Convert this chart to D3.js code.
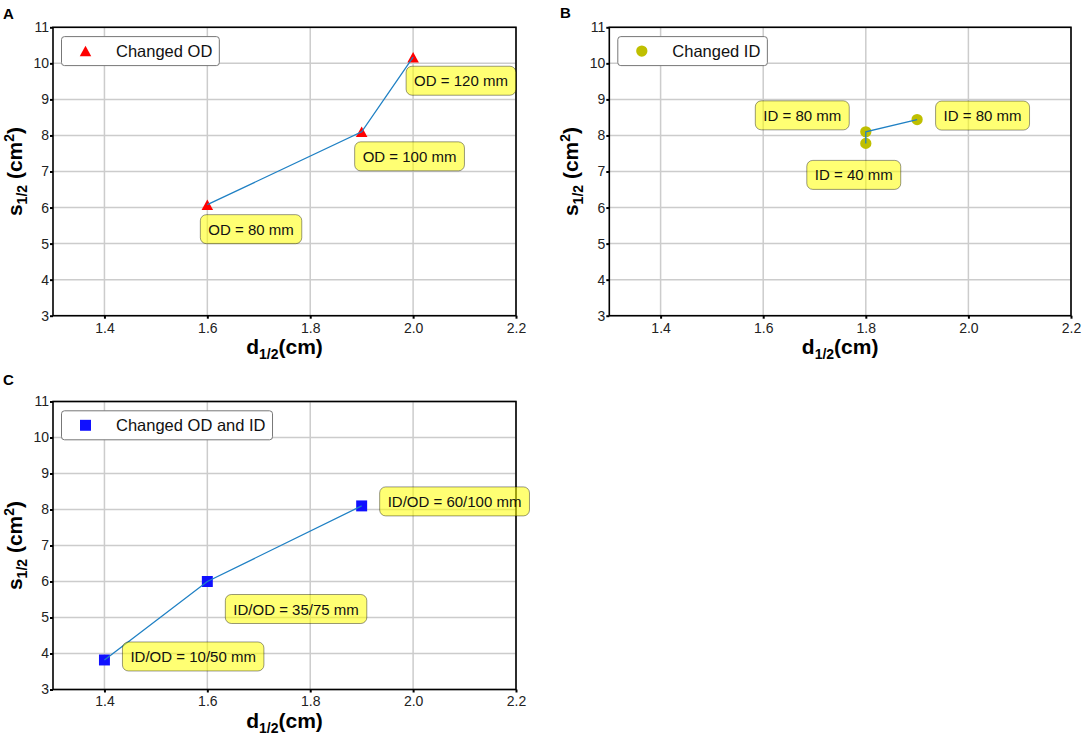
<!DOCTYPE html>
<html>
<head>
<meta charset="utf-8">
<script src="https://cdn.jsdelivr.net/npm/d3@7"></script>
<style>
  body { margin: 0; background: #fff; }
  svg { font-family: "Liberation Sans", Arial, sans-serif; }
  .axis path { display: none; }
  .axis line { stroke: #000; stroke-width: 2; }
</style>
</head>
<body>
<div id="chart"></div>
<script>
  "use strict";

  // ticks shared by the three panels
  var xTicks = [1.4, 1.6, 1.8, 2.0, 2.2];
  var yTicks = [3, 4, 5, 6, 7, 8, 9, 10, 11];

  // A - changed OD
  var odX = [1.6, 1.9, 2.0];
  var odY = [6.08, 8.1, 10.17];
  var odLabels = ["OD = 80 mm", "OD = 100 mm", "OD = 120 mm"];

  // B - changed ID
  var idX = [1.8, 1.8, 1.9];
  var idY = [7.78, 8.1, 8.44];
  var idLabels = ["ID = 40 mm", "ID = 80 mm", "ID = 80 mm"];

  // C - changed OD and ID
  var bothX = [1.4, 1.6, 1.9];
  var bothY = [3.82, 6.0, 8.1];
  var bothLabels = ["ID/OD = 10/50 mm", "ID/OD = 35/75 mm", "ID/OD = 60/100 mm"];

  var triangle = {
    draw: function(ctx, size) {
      var r = Math.sqrt(size) / 2;
      ctx.moveTo(0, -r);
      ctx.lineTo(r * 1.1, r);
      ctx.lineTo(-r * 1.1, r);
      ctx.closePath();
    }
  };

  var panels = [
    { letter: "A", lx: 3, ly: 19, left: 53, top: 27.3, width: 463, height: 288.4,
      xs: odX, ys: odY, labels: odLabels, legend: "Changed OD",
      symbol: triangle, size: 110, color: "#ff0000",
      offsets: [[-7, 10], [-7, 10], [-7, 9]] },
    { letter: "B", lx: 560, ly: 18, left: 609.3, top: 27.3, width: 461.7, height: 288.4,
      xs: idX, ys: idY, labels: idLabels, legend: "Changed ID",
      symbol: d3.symbolCircle, size: 100, color: "#bfbf00",
      offsets: [[-59, 17], [-110.5, -31], [18.5, -18.5]] },
    { letter: "C", lx: 3, ly: 385, left: 53, top: 401.5, width: 463, height: 288,
      xs: bothX, ys: bothY, labels: bothLabels, legend: "Changed OD and ID",
      symbol: d3.symbolSquare, size: 120, color: "#1010ff",
      offsets: [[18, -18], [18, 13], [18, -19]] }
  ];

  var svg = d3.select("#chart")
    .append("svg")
    .attr("width", 1084)
    .attr("height", 736);

  panels.forEach(function(p) {
    var x = d3.scaleLinear().domain([1.3, 2.2]).range([0, p.width]);
    var y = d3.scaleLinear().domain([3, 11]).range([p.height, 0]);

    svg.append("text")
      .attr("x", p.lx)
      .attr("y", p.ly)
      .style("font-size", "15px")
      .style("font-weight", "bold")
      .text(p.letter);

    var g = svg.append("g")
      .attr("transform", "translate(" + p.left + "," + p.top + ")");

    // grid
    g.append("g").selectAll("line")
      .data(xTicks)
      .enter().append("line")
      .attr("x1", function(d) { return x(d); })
      .attr("x2", function(d) { return x(d); })
      .attr("y1", 0)
      .attr("y2", p.height)
      .attr("stroke", "#cccccc")
      .attr("stroke-width", 1.5);
    g.append("g").selectAll("line")
      .data(yTicks)
      .enter().append("line")
      .attr("x1", 0)
      .attr("x2", p.width)
      .attr("y1", function(d) { return y(d); })
      .attr("y2", function(d) { return y(d); })
      .attr("stroke", "#cccccc")
      .attr("stroke-width", 1.5);

    // axes
    g.append("g")
      .attr("class", "axis")
      .attr("transform", "translate(0," + p.height + ")")
      .call(d3.axisBottom(x).tickValues(xTicks).tickFormat(d3.format(".1f"))
        .tickSizeInner(3).tickSizeOuter(0).tickPadding(4))
      .attr("font-family", null)
      .attr("font-size", null)
      .selectAll("text")
      .style("font-size", "14px")
      .attr("fill", "#222");
    g.append("g")
      .attr("class", "axis")
      .call(d3.axisLeft(y).tickValues(yTicks).tickFormat(d3.format("d"))
        .tickSizeInner(3).tickSizeOuter(0).tickPadding(1))
      .attr("font-family", null)
      .attr("font-size", null)
      .selectAll("text")
      .style("font-size", "14px")
      .attr("fill", "#222");

    // frame
    g.append("rect")
      .attr("width", p.width)
      .attr("height", p.height)
      .attr("fill", "none")
      .attr("stroke", "#000")
      .attr("stroke-width", 1.6);

    // axis titles
    var xt = g.append("text")
      .attr("x", p.width / 2)
      .attr("y", p.height + 38)
      .attr("text-anchor", "middle")
      .style("font-size", "21px")
      .style("font-weight", "bold");
    xt.append("tspan").text("d");
    xt.append("tspan").attr("dy", 5).style("font-size", "14px").text("1/2");
    xt.append("tspan").attr("dy", -5).text("(cm)");

    var yt = g.append("text")
      .attr("transform", "translate(-31," + p.height / 2 + ") rotate(-90)")
      .attr("text-anchor", "middle")
      .style("font-size", "21px")
      .style("font-weight", "bold");
    yt.append("tspan").text("s");
    yt.append("tspan").attr("dy", 5).style("font-size", "14px").text("1/2");
    yt.append("tspan").attr("dy", -5).text(" (cm");
    yt.append("tspan").attr("dy", -8).style("font-size", "14px").text("2");
    yt.append("tspan").attr("dy", 8).text(")");

    var pts = p.xs.map(function(d, i) { return [d, p.ys[i]]; });

    // markers
    g.append("g").selectAll("path")
      .data(pts)
      .enter().append("path")
      .attr("transform", function(d) { return "translate(" + x(d[0]) + "," + y(d[1]) + ")"; })
      .attr("d", d3.symbol().type(p.symbol).size(p.size))
      .attr("fill", p.color);

    // line
    g.append("path")
      .datum(pts)
      .attr("fill", "none")
      .attr("stroke", "#1f80c4")
      .attr("stroke-width", 1.3)
      .attr("d", d3.line().x(function(d) { return x(d[0]); }).y(function(d) { return y(d[1]); }));

    // annotations
    var ann = g.append("g").selectAll("g")
      .data(pts)
      .enter().append("g")
      .attr("transform", function(d, i) {
        return "translate(" + (x(d[0]) + p.offsets[i][0]) + "," + (y(d[1]) + p.offsets[i][1]) + ")";
      });
    ann.append("rect")
      .attr("height", 29)
      .attr("rx", 6)
      .attr("fill", "#ffff00")
      .attr("fill-opacity", 0.55)
      .attr("stroke", "#000")
      .attr("stroke-opacity", 0.4)
      .attr("stroke-width", 1);
    ann.append("text")
      .attr("x", 8)
      .attr("y", 20)
      .style("font-size", "15px")
      .attr("fill", "#111")
      .text(function(d, i) { return p.labels[i]; })
      .each(function() {
        var w = this.getComputedTextLength();
        d3.select(this.parentNode).select("rect").attr("width", w + 16);
      });

    // legend
    var lg = g.append("g").attr("transform", "translate(8.5,9.3)");
    var lRect = lg.append("rect")
      .attr("height", 29)
      .attr("rx", 3)
      .attr("fill", "#fff")
      .attr("stroke", "#777")
      .attr("stroke-width", 1);
    lg.append("path")
      .attr("transform", "translate(24,14.5)")
      .attr("d", d3.symbol().type(p.symbol).size(p.size))
      .attr("fill", p.color);
    var lt = lg.append("text")
      .attr("x", 54.5)
      .attr("y", 20.5)
      .style("font-size", "16.5px")
      .attr("fill", "#111")
      .text(p.legend);
    lRect.attr("width", 54.5 + lt.node().getComputedTextLength() + 7);
  });
</script>
</body>
</html>
